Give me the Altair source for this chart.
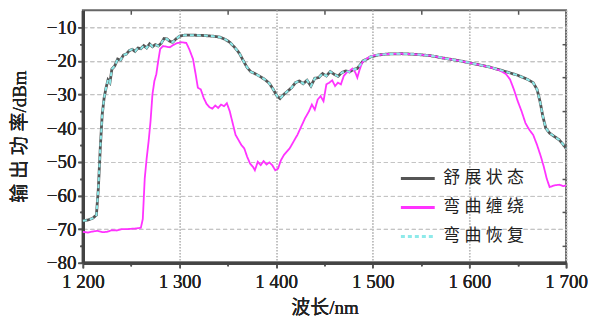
import altair as alt
import pandas as pd

# ---- data ----
series_names = ["舒展状态", "弯曲缠绕", "弯曲恢复"]

stretch_nm = [1200, 1205, 1210, 1214, 1216, 1218, 1220, 1222, 1224, 1226, 1228, 1230, 1233, 1236, 1239,
              1242, 1245, 1248, 1251, 1254, 1257, 1260, 1263, 1266, 1269, 1272, 1275, 1278, 1281, 1284,
              1287, 1290, 1293, 1296, 1300, 1305, 1315, 1325, 1335, 1342, 1347, 1352, 1357, 1362, 1366,
              1370, 1374, 1378, 1383, 1388, 1393, 1397, 1401, 1404, 1408, 1412, 1416, 1420, 1424, 1428,
              1432, 1436, 1440, 1444, 1448, 1452, 1456, 1460, 1464, 1468, 1472, 1476, 1480, 1484, 1487,
              1490, 1494, 1498, 1505, 1515, 1530, 1545, 1560, 1575, 1590, 1605, 1620, 1635, 1650, 1660,
              1666, 1670, 1673, 1676, 1679, 1683, 1688, 1693, 1697, 1700]
stretch_db = [-67.5, -67.3, -66.8, -65.8, -58.0, -46.0, -36.0, -31.0, -28.0, -25.7, -26.5, -22.5, -21.5, -19.5, -19.8,
              -18.3, -18.0, -17.0, -16.6, -17.2, -16.2, -16.4, -15.5, -16.2, -15.0, -15.8, -15.2, -15.6, -14.8, -13.4,
              -13.5, -14.2, -14.5, -13.6, -12.7, -12.4, -12.4, -12.5, -12.7, -13.0, -13.6, -14.5, -16.0, -17.8, -20.0,
              -22.0, -23.3, -23.8, -24.6, -25.5, -26.7, -28.5, -30.5, -31.2, -30.0, -29.0, -28.0, -26.5, -26.0, -26.8,
              -25.8, -27.5, -25.2, -25.0, -23.8, -24.5, -23.2, -24.0, -24.6, -23.5, -23.0, -23.3, -22.6, -22.3, -21.2,
              -20.0, -19.5, -18.8, -18.3, -18.0, -17.9, -18.1, -18.5, -19.3, -20.0, -20.9, -21.8, -23.0, -24.3, -25.5,
              -26.5, -28.5, -32.0, -36.5, -40.0, -41.5, -42.5, -43.5, -44.8, -46.0]

bent_nm = [1200, 1205, 1210, 1215, 1220, 1225, 1230, 1235, 1240, 1245, 1250, 1255, 1260, 1262, 1264,
           1266, 1268, 1270, 1272, 1274, 1276, 1278, 1280, 1283, 1286, 1290, 1293, 1297, 1302, 1307,
           1310, 1314, 1317, 1319, 1322, 1325, 1328, 1331, 1334, 1337, 1340, 1343, 1346, 1349, 1352,
           1355, 1358, 1361, 1364, 1367, 1370, 1373, 1376, 1378, 1381, 1384, 1387, 1390, 1393, 1396,
           1399, 1402, 1405, 1408, 1411, 1414, 1418, 1422, 1426, 1430, 1434, 1437, 1440, 1443, 1446,
           1449, 1452, 1455, 1458, 1461, 1464, 1467, 1470, 1473, 1476, 1479, 1482, 1484, 1486, 1489,
           1493, 1497, 1502, 1515, 1530, 1545, 1560, 1575, 1590, 1605, 1620, 1632, 1638, 1642, 1646,
           1650, 1654, 1658, 1662, 1666, 1670, 1674, 1677, 1680, 1683, 1688, 1693, 1697, 1700]
bent_db = [-70.8, -71.0, -70.7, -70.5, -70.9, -70.8, -70.3, -70.4, -70.0, -70.0, -69.9, -69.8, -69.6, -67.0, -55.0,
           -49.0, -44.0, -38.0, -30.0, -26.0, -24.0, -20.0, -16.5, -15.6, -15.8, -16.0, -15.4, -14.8, -14.5, -14.7,
           -16.5, -19.5, -24.5, -28.0, -28.5, -31.0, -32.8, -33.8, -34.2, -33.3, -34.0, -33.0, -33.5, -32.6, -35.0,
           -38.5, -42.0, -43.5, -45.0, -46.0, -48.5, -50.5, -51.5, -52.5, -50.0, -51.0, -49.8, -50.8, -50.2, -51.0,
           -52.5, -52.0, -49.5, -48.0, -47.0, -46.0, -44.0, -42.0, -39.5, -37.0, -35.0, -33.0, -34.5, -31.5, -30.5,
           -32.0, -27.0, -26.5, -25.8, -27.5, -26.5, -27.0, -24.5, -23.5, -23.0, -22.3, -23.5, -25.0, -23.0, -20.5,
           -19.5, -18.8, -18.4, -18.0, -17.9, -18.1, -18.5, -19.3, -20.0, -20.9, -21.8, -22.9, -24.0, -25.5, -28.5,
           -32.0, -35.0, -38.5, -40.5, -42.0, -45.0, -48.5, -51.5, -55.0, -57.5, -57.0, -56.8, -57.2, -57.0]

recover_nm = list(stretch_nm)
recover_db = list(stretch_db)

x_ticks = [1200, 1250, 1300, 1350, 1400, 1450, 1500, 1550, 1600, 1650, 1700]
y_ticks = [-80, -75, -70, -65, -60, -55, -50, -45, -40, -35, -30, -25, -20, -15, -10]
x_minor = [1250, 1350, 1450, 1550, 1650]
y_minor = [-75, -65, -55, -45, -35, -25, -15]

colors = ["#555555", "#ff33ff", "#8eeaea"]
dashes = [[1, 0], [1, 0], [4, 3]]
widths = [2.8, 1.8, 2.0]

# ---- build tables ----
df_s = pd.DataFrame({"nm": stretch_nm, "db": stretch_db, "series": series_names[0]})
df_b = pd.DataFrame({"nm": bent_nm, "db": bent_db, "series": series_names[1]})
df_r = pd.DataFrame({"nm": recover_nm, "db": recover_db, "series": series_names[2]})

serif = "Liberation Serif, Noto Sans CJK SC"

x_scale = alt.Scale(domain=[1200, 1700], nice=False, zero=False)
y_scale = alt.Scale(domain=[-80, -5], nice=False, zero=False)

legend = alt.Legend(
    title=None, orient="none", legendX=317, legendY=150,
    symbolType="stroke", symbolSize=1150, symbolStrokeWidth=3,
    labelFont=serif, labelFontSize=17, labelColor="#222",
    labelExpr="join(split(datum.label, ''), ' ')",
    labelOffset=7, rowPadding=2,
)

x_axis = alt.Axis(
    orient="bottom", values=x_ticks, title="波长/nm", titleFont=serif, titleFontSize=19,
    titleFontWeight="normal", titleColor="#222", titleBaseline="alphabetic", titleY=51,
    labelFont=serif, labelFontSize=19, labelColor="#222", labelPadding=5, labelFlush=False,
    labelExpr="datum.value % 100 === 0 ? floor(datum.value/1000) + ' ' + format(datum.value % 1000, '03d') : ''",
    tickSize={"condition": {"test": "datum.value % 100 !== 0", "value": 3}, "value": 5},
    tickColor="#555", tickWidth=1.5, domainColor="#444", domainWidth=3,
    grid=True, gridColor="#bbbbbb", gridDash=[1, 2], gridWidth=1.5,
    gridOpacity={"condition": {"test": "datum.value % 100 !== 0", "value": 0}, "value": 1},
)
y_axis = alt.Axis(
    orient="left", values=y_ticks, title="输 出 功 率/dBm", titleFont=serif, titleFontSize=19,
    titleFontWeight="normal", titleColor="#222", titleX=-53, titleY=126,
    labelFont=serif, labelFontSize=19, labelColor="#222", labelPadding=2, labelFlush=False,
    labelExpr="datum.value % 10 === 0 ? '\u2212' + abs(datum.value) : ''",
    tickSize={"condition": {"test": "datum.value % 10 !== 0", "value": 3}, "value": 5},
    tickColor="#555", tickWidth=1.5, domainColor="#444", domainWidth=3,
    grid=True, gridColor="#c4c4c4", gridDash=[4, 3], gridWidth=1,
    gridOpacity={"condition": {"test": "datum.value % 10 !== 0 || datum.value === -80", "value": 0}, "value": 1},
)

def line_layer(df, width):
    return alt.Chart(df).mark_line(interpolate="linear", strokeWidth=width).encode(
        x=alt.X("nm:Q", scale=x_scale, axis=x_axis),
        y=alt.Y("db:Q", scale=y_scale, axis=y_axis),
        color=alt.Color("series:N", scale=alt.Scale(domain=series_names, range=colors), legend=legend),
        strokeDash=alt.StrokeDash("series:N", scale=alt.Scale(domain=series_names, range=dashes), legend=legend),
    )

frame = alt.Chart(df_s).mark_point(opacity=0).encode(
    x=alt.X("nm:Q", scale=x_scale, axis=alt.Axis(orient="top", values=x_minor, labels=False, title=None,
                                                    domain=False, grid=False, tickSize=4, offset=-4,
                                                    tickColor="#555", tickWidth=1.5)),
    y=alt.Y("db:Q", scale=y_scale, axis=alt.Axis(orient="right", values=y_minor, labels=False, title=None,
                                                    domain=False, grid=False, tickSize=4, offset=-4,
                                                    tickColor="#555", tickWidth=1.5)),
)

chart = alt.layer(
    line_layer(df_s, widths[0]), line_layer(df_b, widths[1]), line_layer(df_r, widths[2]), frame
).resolve_axis(x="independent", y="independent").properties(
    width=484, height=253,
    autosize=alt.AutoSizeParams(type="none"),
    padding={"left": 75, "top": 2, "right": 30, "bottom": 58},
    background="white",
).configure_view(stroke="#666666", strokeWidth=2)

chart.save("out.html", embed_options={"renderer": "svg", "actions": False})
